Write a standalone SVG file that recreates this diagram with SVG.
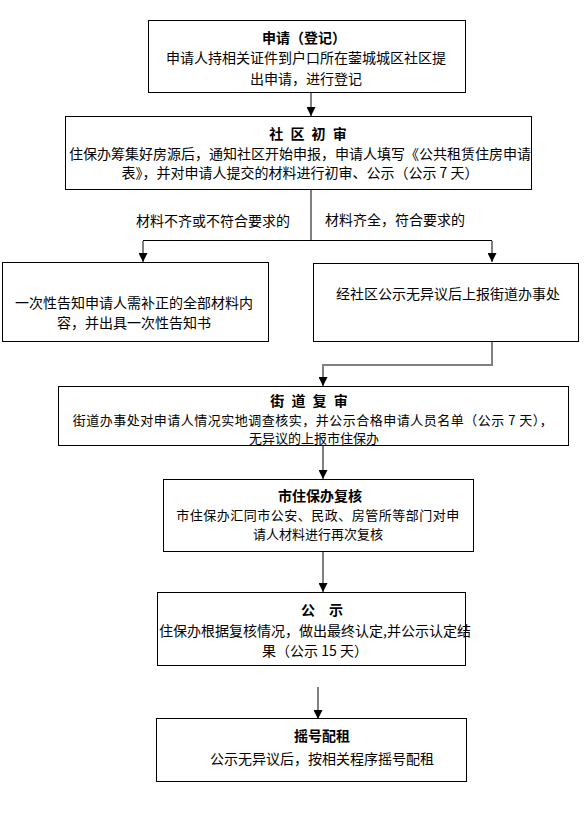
<svg xmlns="http://www.w3.org/2000/svg" width="587" height="816" viewBox="0 0 587 816">
<style>
  .box{fill:#fff;stroke:#000;stroke-width:1}
  text{font-family:"Noto Sans CJK SC","Noto Sans",sans-serif;font-size:14px;fill:#000;text-anchor:middle;dominant-baseline:central}
  .t{font-weight:bold}
  .s{font-size:13px}
  .stem{stroke:#808080;stroke-width:2;fill:none}
  .hl{stroke:#000;stroke-width:1;fill:none}
</style>
<defs>
  <marker id="ah" markerUnits="userSpaceOnUse" markerWidth="9" markerHeight="9" viewBox="0 0 9 9" refX="9" refY="4.5" orient="auto">
    <path d="M0,0 L9,4.5 L0,9 z" fill="#000"/>
  </marker>
</defs>
<rect width="587" height="816" fill="#fff"/>

<g id="connectors">
  <line class="stem" x1="311" y1="93" x2="311" y2="116" marker-end="url(#ah)"/>
  <line class="stem" x1="311" y1="190" x2="311" y2="240"/>
  <line class="hl" x1="143" y1="240.5" x2="492" y2="240.5"/>
  <line class="stem" x1="143" y1="241" x2="143" y2="262" marker-end="url(#ah)"/>
  <line class="stem" x1="492" y1="241" x2="492" y2="262" marker-end="url(#ah)"/>
  <polyline class="stem" points="492,342 492,365 323,365"/>
  <line class="stem" x1="323" y1="364" x2="323" y2="386" marker-end="url(#ah)"/>
  <line class="stem" x1="323" y1="446" x2="323" y2="479" marker-end="url(#ah)"/>
  <line class="stem" x1="323" y1="552" x2="323" y2="592" marker-end="url(#ah)"/>
  <line class="stem" x1="318" y1="687" x2="318" y2="719" marker-end="url(#ah)"/>
</g>

<g id="labels">
  <text x="213" y="220">材料不齐或不符合要求的</text>
  <text x="395" y="219">材料齐全，符合要求的</text>
</g>

<g id="n1">
  <rect class="box" x="148.5" y="20.5" width="317" height="72"/>
  <text class="t" x="304" y="37">申请（登记）</text>
  <text x="306" y="57">申请人持相关证件到户口所在蓥城城区社区提</text>
  <text x="306" y="78">出申请，进行登记</text>
</g>

<g id="n2">
  <rect class="box" x="65.5" y="116.5" width="466" height="73"/>
  <text class="t" x="309" y="133" letter-spacing="2">社 区 初 审</text>
  <text x="300" y="153">住保办筹集好房源后，通知社区开始申报，申请人填写《公共租赁住房申请</text>
  <text x="300" y="172">表》，并对申请人提交的材料进行初审、公示（公示 7 天）</text>
</g>

<g id="n3">
  <rect class="box" x="2.5" y="262.5" width="266" height="79"/>
  <text x="134" y="302">一次性告知申请人需补正的全部材料内</text>
  <text x="134" y="322">容，并出具一次性告知书</text>
</g>

<g id="n4">
  <rect class="box" x="313.5" y="263.5" width="265" height="78"/>
  <text x="448" y="293">经社区公示无异议后上报街道办事处</text>
</g>

<g id="n5">
  <rect class="box" x="58.5" y="386.5" width="510" height="59"/>
  <text class="t" x="310" y="400" letter-spacing="2">街 道 复 审</text>
  <text class="s" x="313" y="419" letter-spacing="0.5">街道办事处对申请人情况实地调查核实，并公示合格申请人员名单（公示 7 天），</text>
  <text class="s" x="314" y="437">无异议的上报市住保办</text>
</g>

<g id="n6">
  <rect class="box" x="163.5" y="479.5" width="310" height="72"/>
  <text class="t" x="320" y="495">市住保办复核</text>
  <text class="s" x="318" y="514" letter-spacing="0.5">市住保办汇同市公安、民政、房管所等部门对申</text>
  <text class="s" x="318" y="533">请人材料进行再次复核</text>
</g>

<g id="n7">
  <rect class="box" x="157.5" y="592.5" width="308" height="73"/>
  <text class="t" x="322" y="609">公　示</text>
  <text x="315" y="630">住保办根据复核情况，做出最终认定,并公示认定结</text>
  <text x="315" y="650">果（公示 15 天）</text>
</g>

<g id="n8">
  <rect class="box" x="156.5" y="718.5" width="310" height="63"/>
  <text class="t" x="322" y="735">摇号配租</text>
  <text x="322" y="758">公示无异议后，按相关程序摇号配租</text>
</g>
</svg>
